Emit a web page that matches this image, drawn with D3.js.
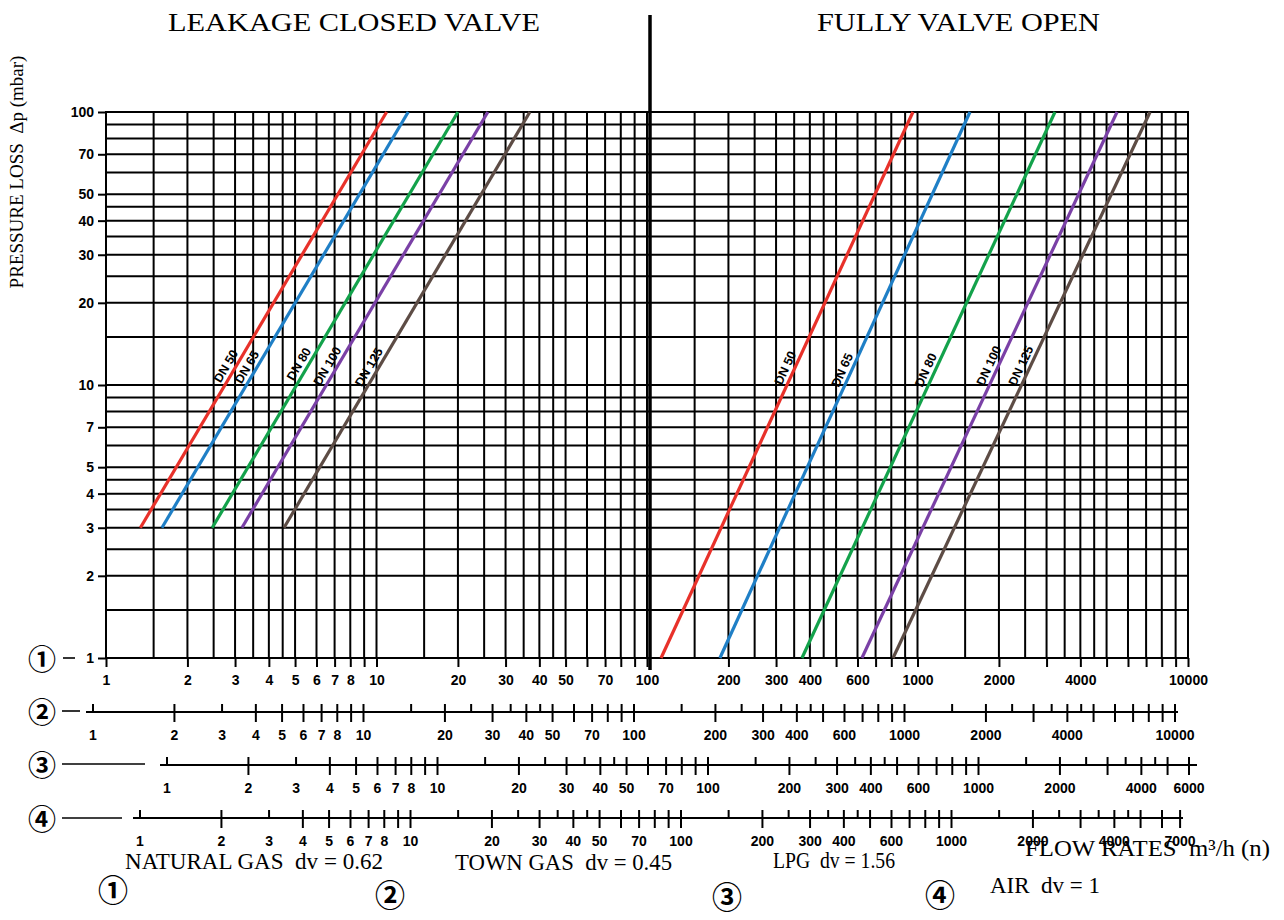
<!DOCTYPE html>
<html><head><meta charset="utf-8">
<script src="https://cdn.jsdelivr.net/npm/d3@7"></script>
<style>body{margin:0;background:#fff} svg{display:block} text{white-space:pre}</style>
</head><body>
<svg id="c" width="1284" height="920"></svg>
<script>
// ---------- data ----------
const titles = ["LEAKAGE CLOSED VALVE", "FULLY VALVE OPEN"];
const yTitle = "PRESSURE LOSS  \u0394p (mbar)";
const xTitle = "FLOW RATES  m\u00B3/h (n)";
const yTickLabels = [1, 2, 3, 4, 5, 7, 10, 20, 30, 40, 50, 70, 100];
const xLabels1 = [1,2,3,4,5,6,7,8,10,20,30,40,50,70,100,200,300,400,600,1000,2000,4000,10000];
const xLabels2 = [1,2,3,4,5,6,7,8,10,20,30,40,50,70,100,200,300,400,600,1000,2000,4000,10000];
const xLabels3 = [1,2,3,4,5,6,7,8,10,20,30,40,50,70,100,200,300,400,600,1000,2000,4000,6000];
const xLabels4 = [1,2,3,4,5,6,7,8,10,20,30,40,50,70,100,200,300,400,600,1000,2000,4000,7000];
const gridMantissas = [1,1.5,2,2.5,3,3.5,4,4.5,5,6,7,8,9];
const tickUpFirst = [1,3];
const tickCrossFirst = [2,4,5,6,7,8,9,10];
const tickUpMant = [1.5,2.5,3.5,4.5];
const tickCrossMant = [2,3,4,5,6,7,8,9,10];
const seriesNames = ["DN 50","DN 65","DN 80","DN 100","DN 125"];
const seriesColors = ["#e8312a","#1f7fc6","#13a24b","#7a40a6","#5d4c45"];
// leakage, closed valve: flow at dp start / dp end
const leakDp = [3, 100];
const leakFlowStart = [1.34, 1.61, 2.47, 3.18, 4.55];
const leakFlowEnd = [10.9, 13.1, 20.0, 25.8, 36.9];
const leakLabelDp = [11.3, 11.2, 11.5, 11.3, 11.2];
// fully open valve
const openDp = [1, 100];
const openFlowStart = [112.7, 186, 374, 623, 812];
const openFlowEnd = [962, 1563, 3223, 5467, 7240];
const openLabelDp = [11.2, 11.0, 11.0, 11.4, 11.4];
const gasNums = ["\u2460","\u2461","\u2462","\u2463"];
const gasNames = ["NATURAL GAS  dv = 0.62","TOWN GAS  dv = 0.45","LPG  dv = 1.56","AIR  dv = 1"];

// ---------- layout ----------
const svg = d3.select("#c");
const INK = "#000";
const SANS = "Liberation Sans, Arial, Helvetica, sans-serif";
const SERIF = "Liberation Serif, Times New Roman, serif";
const CJK = "Noto Sans CJK JP, Noto Sans CJK SC, DejaVu Sans, sans-serif";

const x = d3.scaleLog().domain([1, 10000]).range([106, 1188]);
const y = d3.scaleLog().domain([1, 100]).range([658, 112]);

const decX = [1, 10, 100, 1000];
const gridX = decX.flatMap(d => gridMantissas.map(m => +(m * d).toPrecision(6))).concat([10000]);
const gridY = [1, 10].flatMap(d => gridMantissas.map(m => +(m * d).toPrecision(6))).concat([100]);

const grid = svg.append("g");
grid.selectAll(".vx").data(gridX).join("line")
  .attr("x1", d => x(d)).attr("x2", d => x(d)).attr("y1", y(1) + 1).attr("y2", y(100) - 1)
  .attr("stroke", INK).attr("stroke-width", 2);
grid.selectAll(".hy").data(gridY).join("line")
  .attr("x1", x(1)).attr("x2", x(10000)).attr("y1", d => y(d)).attr("y2", d => y(d))
  .attr("stroke", INK).attr("stroke-width", 2);

// y axis
const yAxis = d3.axisLeft(y).tickValues(yTickLabels).tickSize(8).tickPadding(4).tickFormat(d3.format("d"));
const gy = svg.append("g").attr("transform", `translate(${x(1)},0)`).call(yAxis);
gy.select(".domain").remove();
gy.selectAll("line").attr("stroke", INK).attr("stroke-width", 2);
gy.selectAll("text").attr("font-family", SANS).attr("font-weight", "bold").attr("font-size", 14).attr("fill", INK);

// x axis (scale 1 - natural gas)
const intTicks = decX.flatMap(d => [1,2,3,4,5,6,7,8,9].map(m => m * d)).concat([10000]);
const set1 = new Set(xLabels1);
const xAxis = d3.axisBottom(x).tickValues(intTicks).tickSize(9).tickPadding(8).tickFormat(d => set1.has(d) ? d : "");
const gx = svg.append("g").attr("transform", `translate(0,${y(1)})`).call(xAxis);
gx.select(".domain").remove();
gx.selectAll("line").attr("stroke", INK).attr("stroke-width", 2);
gx.selectAll("text").attr("font-family", SANS).attr("font-weight", "bold").attr("font-size", 14).attr("fill", INK);

// centre divider
svg.append("line").attr("x1", x(100) + 3).attr("x2", x(100) + 3).attr("y1", 15).attr("y2", 670)
  .attr("stroke", INK).attr("stroke-width", 3.5);

// series lines
function drawSeries(flowStart, flowEnd, dp, labelDp) {
  const g = svg.append("g");
  seriesNames.forEach((name, i) => {
    const pts = [[flowStart[i], dp[0]], [flowEnd[i], dp[1]]];
    g.append("path").datum(pts)
      .attr("d", d3.line().x(d => x(d[0])).y(d => y(d[1])))
      .attr("fill", "none").attr("stroke", seriesColors[i]).attr("stroke-width", 3.2);
    const X0 = x(pts[0][0]), Y0 = y(pts[0][1]), X1 = x(pts[1][0]), Y1 = y(pts[1][1]);
    const ang = Math.atan2(Y1 - Y0, X1 - X0);
    const t = (Math.log(labelDp[i]) - Math.log(dp[0])) / (Math.log(dp[1]) - Math.log(dp[0]));
    const lx = X0 + t * (X1 - X0), ly = Y0 + t * (Y1 - Y0);
    const off = 8.5;
    const nx = Math.sin(ang) * off, ny = -Math.cos(ang) * off; // normal toward upper-left
    g.append("text").text(name)
      .attr("transform", `translate(${lx + nx},${ly + ny}) rotate(${ang * 180 / Math.PI})`)
      .attr("text-anchor", "middle").attr("dominant-baseline", "central")
      .attr("font-family", SANS).attr("font-weight", "bold").attr("font-size", 12.5).attr("fill", INK);
  });
}
drawSeries(leakFlowStart, leakFlowEnd, leakDp, leakLabelDp);
drawSeries(openFlowStart, openFlowEnd, openDp, openLabelDp);

// secondary flow scales
const s2 = d3.scaleLog().domain([1, 10000]).range([93, 93 + 4 * 270.5]);
const s3 = d3.scaleLog().domain([1, 6000]).range([167, 167 + Math.log10(6000) * 270.5]);
const s4 = d3.scaleLog().domain([1, 7000]).range([140, 140 + Math.log10(7000) * 270.5]);

function drawScale(sc, yl, xa, xb, labels, maxV) {
  const g = svg.append("g");
  g.append("line").attr("x1", xa).attr("x2", xb).attr("y1", yl).attr("y2", yl)
    .attr("stroke", INK).attr("stroke-width", 2);
  const up = tickUpFirst.slice(), cross = tickCrossFirst.slice();
  [10, 100, 1000].forEach(d => {
    tickUpMant.forEach(m => up.push(m * d));
    tickCrossMant.forEach(m => cross.push(m * d));
  });
  g.selectAll(".u").data(up.filter(v => v <= maxV)).join("line")
    .attr("x1", d => sc(d)).attr("x2", d => sc(d)).attr("y1", yl - 8).attr("y2", yl)
    .attr("stroke", INK).attr("stroke-width", 2);
  g.selectAll(".c").data(cross.filter(v => v <= maxV)).join("line")
    .attr("x1", d => sc(d)).attr("x2", d => sc(d)).attr("y1", yl - 8).attr("y2", yl + 10)
    .attr("stroke", INK).attr("stroke-width", 2);
  g.selectAll("text").data(labels).join("text")
    .attr("x", d => sc(d)).attr("y", yl + 18).attr("dy", "0.71em")
    .attr("text-anchor", "middle").text(d => d)
    .attr("font-family", SANS).attr("font-weight", "bold").attr("font-size", 14).attr("fill", INK);
}
drawScale(s2, 712, 86, 1178, xLabels2, 10000);
drawScale(s3, 765, 160, 1197, xLabels3, 6000);
drawScale(s4, 818, 133, 1183, xLabels4, 7000);

// circled scale numbers and leader dashes
const rowY = [658, 711, 764, 818];
const dashX = [[63, 75], [62, 80], [62, 145], [62, 122]];
rowY.forEach((yy, i) => {
  svg.append("text").text(gasNums[i]).attr("x", 42).attr("y", yy)
    .attr("text-anchor", "middle").attr("dominant-baseline", "central")
    .attr("font-family", CJK).attr("font-weight", "bold").attr("font-size", 28).attr("fill", INK);
  svg.append("line").attr("x1", dashX[i][0]).attr("x2", dashX[i][1]).attr("y1", yy).attr("y2", yy)
    .attr("stroke", INK).attr("stroke-width", 1.6);
});

// titles
svg.append("text").text(titles[0]).attr("x", 168).attr("y", 31)
  .attr("textLength", 372).attr("lengthAdjust", "spacingAndGlyphs")
  .attr("font-family", SERIF).attr("font-size", 26).attr("fill", INK);
svg.append("text").text(titles[1]).attr("x", 817).attr("y", 31)
  .attr("textLength", 283).attr("lengthAdjust", "spacingAndGlyphs")
  .attr("font-family", SERIF).attr("font-size", 26).attr("fill", INK);

// y title
svg.append("text").text(yTitle)
  .attr("transform", "translate(23,172) rotate(-90)").attr("text-anchor", "middle")
  .attr("font-family", SERIF).attr("font-size", 19).attr("fill", INK);

// x title
svg.append("text").text(xTitle).attr("x", 1270).attr("y", 856).attr("text-anchor", "end")
  .attr("textLength", 245).attr("lengthAdjust", "spacingAndGlyphs")
  .attr("font-family", SERIF).attr("font-size", 23).attr("fill", INK);

// legend
const legCircle = [[113, 888], [390, 893], [727, 895], [940, 893]];
const legText = [[125, 861, 258], [455, 862, 217], [773, 860, 122], [990, 885, 110]];
gasNames.forEach((nm, i) => {
  svg.append("text").text(gasNums[i]).attr("x", legCircle[i][0]).attr("y", legCircle[i][1])
    .attr("text-anchor", "middle").attr("dominant-baseline", "central")
    .attr("font-family", CJK).attr("font-weight", "bold").attr("font-size", 30).attr("fill", INK);
  svg.append("text").text(nm).attr("x", legText[i][0]).attr("y", legText[i][1] + 8)
    .attr("textLength", legText[i][2]).attr("lengthAdjust", "spacingAndGlyphs")
    .attr("font-family", SERIF).attr("font-size", 23).attr("fill", INK);
});
</script>
</body></html>
